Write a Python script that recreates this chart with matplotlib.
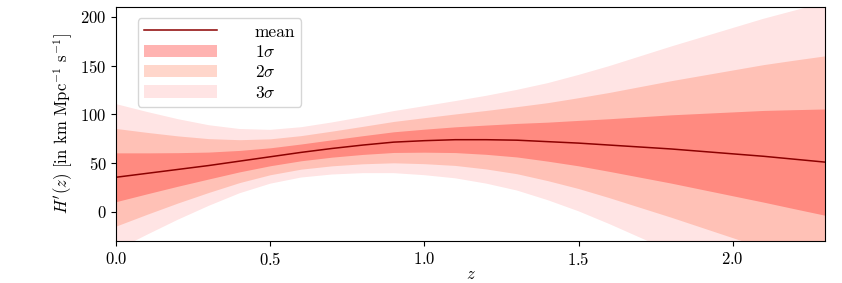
import matplotlib
matplotlib.use("Agg")
import numpy as np
import matplotlib.pyplot as plt

plt.rcParams["font.family"] = ["cmr10", "DejaVu Serif"]
plt.rcParams["mathtext.fontset"] = "cm"
plt.rcParams["axes.formatter.use_mathtext"] = True
plt.rcParams["font.size"] = 12

z = [0.0, 0.1, 0.2, 0.3, 0.4, 0.5, 0.6, 0.7, 0.8, 0.9, 1.0, 1.1,
     1.2, 1.3, 1.4, 1.5, 1.6, 1.7, 1.8, 1.9, 2.0, 2.1, 2.2, 2.3]
h_mean = [35.5, 39.5, 43.5, 47.5, 52.0, 56.5, 61.0, 65.0, 68.5, 71.5, 73.0, 74.0,
          74.0, 73.5, 72.0, 70.5, 68.5, 66.5, 64.5, 62.0, 59.5, 57.0, 54.0, 51.0]
h_sigma = [25.0, 21.0, 17.2, 13.8, 11.0, 9.2, 8.6, 8.9, 9.6, 10.6, 11.8, 13.2,
           15.0, 17.2, 20.0, 23.3, 27.0, 31.0, 35.0, 39.0, 43.0, 47.0, 50.8, 54.5]

z = np.array(z)
m = np.array(h_mean)
s = np.array(h_sigma)

fig, ax = plt.subplots(figsize=(8.42, 2.83), dpi=100)
fig.subplots_adjust(left=0.138, right=0.98, top=0.975, bottom=0.148)

ax.fill_between(z, m - 3 * s, m + 3 * s, color="#ff0000", alpha=0.107, lw=0, label=r"$3\sigma$")
ax.fill_between(z, m - 2 * s, m + 2 * s, color="#ff4814", alpha=0.22, lw=0, label=r"$2\sigma$")
ax.fill_between(z, m - s, m + s, color="#ff1a14", alpha=0.33, lw=0, label=r"$1\sigma$")
ax.plot(z, m, color="#8b0000", lw=1.1, label="mean")

ax.set_xlim(0, 2.3)
ax.set_ylim(-30, 210)
ax.set_xticks([0.0, 0.5, 1.0, 1.5, 2.0])
ax.set_yticks([0, 50, 100, 150, 200])
ax.set_xlabel(r"$z$", labelpad=-1)
ax.set_ylabel(r"$H'(z)$ [in km Mpc$^{-1}$ s$^{-1}$]")

h, l = ax.get_legend_handles_labels()
order = [3, 2, 1, 0]
ax.legend([h[i] for i in order], [l[i] for i in order], loc="upper left",
          handlelength=4.2, handletextpad=2.2, borderpad=0.35, labelspacing=0.25,
          bbox_to_anchor=(0.018, 0.99), fontsize=12.5)

fig.savefig("out.png", dpi=100)
